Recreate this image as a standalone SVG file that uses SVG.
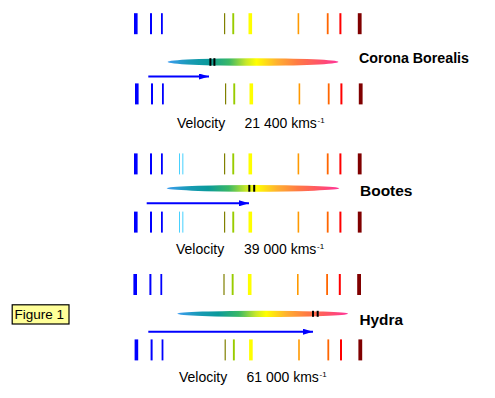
<svg xmlns="http://www.w3.org/2000/svg" xmlns:xlink="http://www.w3.org/1999/xlink" width="495" height="398" viewBox="0 0 495 398">
<style>
.lbl{font-family:"Liberation Sans",Arial,sans-serif;font-weight:bold;font-size:14.5px;fill:#000}
.vel{font-family:"Liberation Sans",Arial,sans-serif;font-size:14px;fill:#000}
.fig{font-family:"Liberation Sans",Arial,sans-serif;font-size:13.5px;fill:#000}
.sup{font-family:"Liberation Sans",Arial,sans-serif;font-size:8px;fill:#000}
.arrow{stroke:#0000ff;stroke-width:2;fill:none}
.mk{fill:#000}
</style>
<defs>
<linearGradient id="spec" x1="0" y1="0" x2="1" y2="0">
<stop offset="0" stop-color="#3d9df0"/>
<stop offset="0.12" stop-color="#1a9ab8"/>
<stop offset="0.24" stop-color="#0a9a9a"/>
<stop offset="0.36" stop-color="#3ab866"/>
<stop offset="0.46" stop-color="#c8e828"/>
<stop offset="0.52" stop-color="#ffff00"/>
<stop offset="0.64" stop-color="#ffb030"/>
<stop offset="0.76" stop-color="#ff7a44"/>
<stop offset="0.88" stop-color="#ff5566"/>
<stop offset="1" stop-color="#ff3399"/>
</linearGradient>
<marker id="ah" viewBox="0 0 10 6" refX="10" refY="3" markerWidth="10" markerHeight="6" markerUnits="userSpaceOnUse" orient="auto">
<path d="M0,0 L10,3 L0,6 Z" fill="#0000ff"/>
</marker>
<g id="lines">
<rect x="134" y="0" width="3.6" height="21" fill="#0000ff"/>
<rect x="150" y="0" width="2" height="21" fill="#0000ff"/>
<rect x="161" y="0" width="1.8" height="21" fill="#0000ff"/>
<rect x="224" y="0" width="1.2" height="21" fill="#808000"/>
<rect x="232.3" y="0" width="1.9" height="21" fill="#99cc00"/>
<rect x="248.5" y="0" width="3.6" height="21" fill="#ffff00"/>
<rect x="297.6" y="0" width="1.6" height="21" fill="#ff9900"/>
<rect x="326.8" y="0" width="1.8" height="21" fill="#ff6600"/>
<rect x="339.4" y="0" width="2" height="21" fill="#ff0000"/>
<rect x="357.8" y="0" width="3.8" height="21" fill="#800000"/>
</g>
<g id="lb">
<rect x="179" y="0" width="0.9" height="21" fill="#33ccff"/>
<rect x="182.4" y="0" width="0.9" height="21" fill="#33ccff"/>
</g>
</defs>
<rect width="495" height="398" fill="#ffffff"/>

<g id="corona-borealis">
<use xlink:href="#lines" transform="translate(0,13.2)"/>
<ellipse cx="253" cy="62" rx="85.4" ry="3.8" fill="url(#spec)"/>
<rect class="mk" x="209.4" y="58.2" width="2" height="7.6"/>
<rect class="mk" x="213.4" y="58.2" width="2" height="7.6"/>
<use xlink:href="#lines" transform="translate(1,83.4)"/>
<text class="lbl" x="359" y="63" textLength="110" lengthAdjust="spacingAndGlyphs">Corona Borealis</text>
<text class="vel" x="177" y="128">Velocity</text>
<text class="vel" x="244.5" y="128">21 400 kms</text>
<text class="sup" x="317.5" y="123">-1</text>
</g>

<g id="bootes">
<use xlink:href="#lines" transform="translate(0,153.4)"/>
<use xlink:href="#lb" transform="translate(0,153.4)"/>
<ellipse cx="253" cy="188.3" rx="86.3" ry="3.4" fill="url(#spec)"/>
<rect class="mk" x="248.3" y="184.9" width="2" height="6.8"/>
<rect class="mk" x="253.2" y="184.9" width="2" height="6.8"/>
<use xlink:href="#lines" transform="translate(0,211.6)"/>
<use xlink:href="#lb" transform="translate(0,211.6)"/>
<text class="lbl" x="360" y="196" textLength="52.5" lengthAdjust="spacingAndGlyphs">Bootes</text>
<text class="vel" x="176" y="253.5">Velocity</text>
<text class="vel" x="244" y="253.5">39 000 kms</text>
<text class="sup" x="317" y="248.5">-1</text>
</g>

<g id="hydra">
<use xlink:href="#lines" transform="translate(-0.6,274)"/>
<ellipse cx="262.7" cy="313.8" rx="85.4" ry="3.1" fill="url(#spec)"/>
<rect class="mk" x="312" y="310.8" width="2" height="6"/>
<rect class="mk" x="316.7" y="310.8" width="2" height="6"/>
<use xlink:href="#lines" transform="translate(0.6,339.4)"/>
<text class="lbl" x="359.5" y="324.5" textLength="43.5" lengthAdjust="spacingAndGlyphs">Hydra</text>
<text class="vel" x="179" y="382">Velocity</text>
<text class="vel" x="246.5" y="382">61 000 kms</text>
<text class="sup" x="319.5" y="377">-1</text>
</g>

<g id="connectors">
<line class="arrow" x1="148.3" y1="76.5" x2="209" y2="76.5" marker-end="url(#ah)"/>
<line class="arrow" x1="146.7" y1="203.3" x2="249" y2="203.3" marker-end="url(#ah)"/>
<line class="arrow" x1="148.3" y1="331.7" x2="313" y2="331.7" marker-end="url(#ah)"/>
</g>

<g id="figure-1">
<rect x="12.2" y="304.8" width="56.8" height="19.2" fill="#ffff99" stroke="#000" stroke-width="1.2"/>
<text class="fig" x="14.5" y="319.3">Figure 1</text>
</g>
</svg>
